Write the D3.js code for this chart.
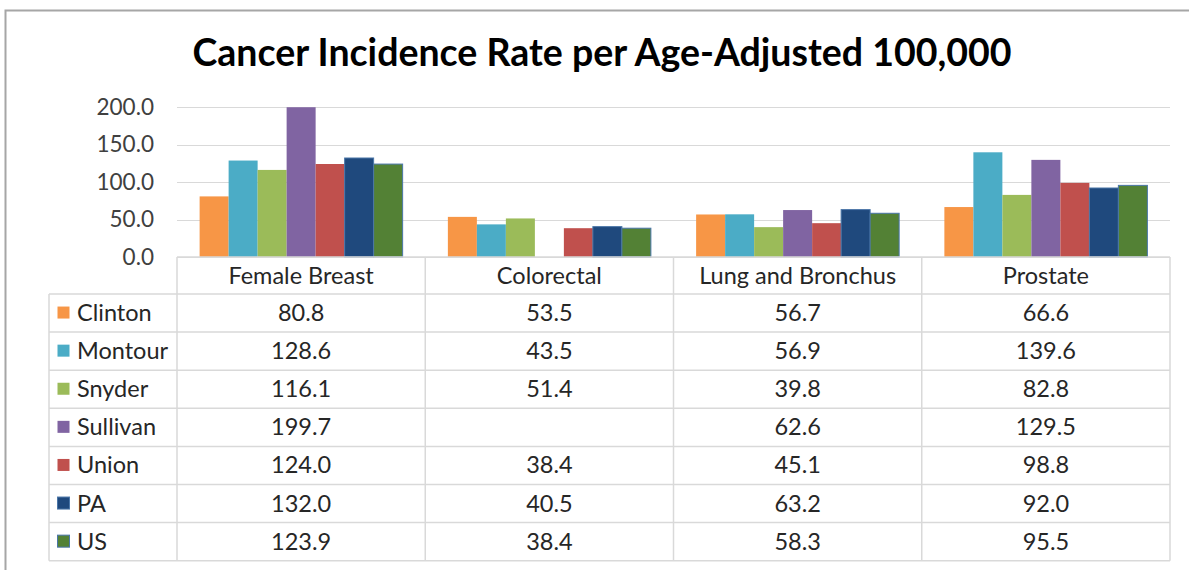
<!DOCTYPE html>
<html>
<head>
<meta charset="utf-8">
<script src="https://cdn.jsdelivr.net/npm/d3@7"></script>
<style>
  body { margin: 0; background: #ffffff; }
  svg { display: block; font-family: Lato, "Noto Sans", sans-serif; }
</style>
</head>
<body>
<div class="chartWrap"></div>
<script>
// data
var categories = ["Female Breast", "Colorectal", "Lung and Bronchus", "Prostate"];
var seriesNames = ["Clinton", "Montour", "Snyder", "Sullivan", "Union", "PA", "US"];
var clinton  = [80.8, 53.5, 56.7, 66.6];
var montour  = [128.6, 43.5, 56.9, 139.6];
var snyder   = [116.1, 51.4, 39.8, 82.8];
var sullivan = [199.7, null, 62.6, 129.5];
var union    = [124.0, 38.4, 45.1, 98.8];
var pa       = [132.0, 40.5, 63.2, 92.0];
var us       = [123.9, 38.4, 58.3, 95.5];
var yTicks = [0, 50, 100, 150, 200];

var seriesValues = [clinton, montour, snyder, sullivan, union, pa, us];
var colors = ["#f79646", "#4bacc6", "#9bbb59", "#8064a2", "#c0504d", "#1f497d", "#538135"];
var strokes = [null, null, null, null, null, "#4a76a8", "#4a76a8"];

var width = 1189, height = 570;
var tableFont = 23.5;

var svg = d3.select(".chartWrap")
  .append("svg")
    .attr("width", width)
    .attr("height", height);

// chart area border
svg.append("rect")
  .attr("x", 5.5).attr("y", 10.5)
  .attr("width", 1300).attr("height", 700)
  .attr("fill", "#ffffff")
  .attr("stroke", "#a6a6a6")
  .attr("stroke-width", 2);

svg.append("text")
  .attr("x", 602)
  .attr("y", 66)
  .attr("text-anchor", "middle")
  .attr("font-size", 37.5)
  .attr("font-weight", "bold")
  .attr("fill", "#000000")
  .text("Cancer Incidence Rate per Age-Adjusted 100,000");

var plotLeft = 177, plotRight = 1170;

var x0 = d3.scaleBand()
  .domain(categories)
  .range([plotLeft, plotRight]);

var x1 = d3.scaleBand()
  .domain(seriesNames)
  .range([0, x0.bandwidth()])
  .paddingOuter(0.78);

var y = d3.scaleLinear()
  .domain([0, 200])
  .range([257, 107]);

// gridlines
svg.append("g")
  .selectAll("line")
  .data(yTicks)
  .enter()
  .append("line")
    .attr("x1", plotLeft)
    .attr("x2", plotRight)
    .attr("y1", function(d) { return Math.round(y(d)) + 0.5; })
    .attr("y2", function(d) { return Math.round(y(d)) + 0.5; })
    .attr("stroke", "#d9d9d9")
    .attr("stroke-width", 1);

// y axis labels
var yAxis = d3.axisLeft(y)
  .tickValues(yTicks)
  .tickFormat(d3.format(".1f"))
  .tickSize(0)
  .tickPadding(0);

var yAxisG = svg.append("g")
  .attr("transform", "translate(154,0)")
  .call(yAxis);
yAxisG.select(".domain").remove();
yAxisG.selectAll("text")
  .attr("font-family", "Lato, 'Noto Sans', sans-serif")
  .attr("font-size", 22.5)
  .attr("fill", "#404040");

// bars
seriesValues.forEach(function(vals, i) {
  svg.append("g")
    .selectAll("rect")
    .data(d3.zip(categories, vals).filter(function(d) { return d[1] != null; }))
    .enter()
    .append("rect")
      .attr("x", function(d) { return x0(d[0]) + x1(seriesNames[i]); })
      .attr("y", function(d) { return y(d[1]); })
      .attr("width", x1.bandwidth())
      .attr("height", function(d) { return y(0) - y(d[1]); })
      .attr("fill", colors[i])
      .attr("stroke", strokes[i] || "none")
      .attr("stroke-width", strokes[i] ? 1 : 0);
});

// data table
var headerTop = 257, headerH = 37, rowH = 38.1;
var legendLeft = 49;
var tableBottom = headerTop + headerH + rowH * seriesNames.length;
var grid = svg.append("g").attr("stroke", "#d9d9d9").attr("stroke-width", 1.5);

grid.append("line")
  .attr("x1", plotLeft).attr("x2", plotRight)
  .attr("y1", headerTop).attr("y2", headerTop);
seriesNames.concat(["end"]).forEach(function(s, i) {
  var yy = headerTop + headerH + rowH * i;
  grid.append("line")
    .attr("x1", legendLeft).attr("x2", plotRight)
    .attr("y1", yy).attr("y2", yy);
});
grid.append("line")
  .attr("x1", legendLeft).attr("x2", legendLeft)
  .attr("y1", headerTop + headerH).attr("y2", tableBottom);
categories.forEach(function(c) {
  grid.append("line")
    .attr("x1", x0(c)).attr("x2", x0(c))
    .attr("y1", headerTop).attr("y2", tableBottom);
});
grid.append("line")
  .attr("x1", plotRight).attr("x2", plotRight)
  .attr("y1", headerTop).attr("y2", tableBottom);

// header texts
svg.append("g")
  .selectAll("text")
  .data(categories)
  .enter()
  .append("text")
    .attr("x", function(d) { return x0(d) + x0.bandwidth() / 2; })
    .attr("y", headerTop + headerH / 2 + 8)
    .attr("text-anchor", "middle")
    .attr("font-size", tableFont)
    .attr("fill", "#262626")
    .text(function(d) { return d; });

// rows
seriesNames.forEach(function(s, i) {
  var top = headerTop + headerH + rowH * i;
  var mid = top + rowH / 2;
  svg.append("rect")
    .attr("x", 57.5).attr("y", mid - 6.5)
    .attr("width", 12).attr("height", 12)
    .attr("fill", colors[i])
    .attr("stroke", strokes[i] || "none")
    .attr("stroke-width", strokes[i] ? 1 : 0);
  svg.append("text")
    .attr("x", 77)
    .attr("y", mid + 8)
    .attr("font-size", tableFont)
    .attr("fill", "#262626")
    .text(s);
  svg.append("g")
    .selectAll("text")
    .data(d3.zip(categories, seriesValues[i]).filter(function(d) { return d[1] != null; }))
    .enter()
    .append("text")
      .attr("x", function(d) { return x0(d[0]) + x0.bandwidth() / 2; })
      .attr("y", mid + 8)
      .attr("text-anchor", "middle")
      .attr("font-size", tableFont)
      .attr("fill", "#262626")
      .text(function(d) { return d3.format(".1f")(d[1]); });
});
</script>
</body>
</html>
